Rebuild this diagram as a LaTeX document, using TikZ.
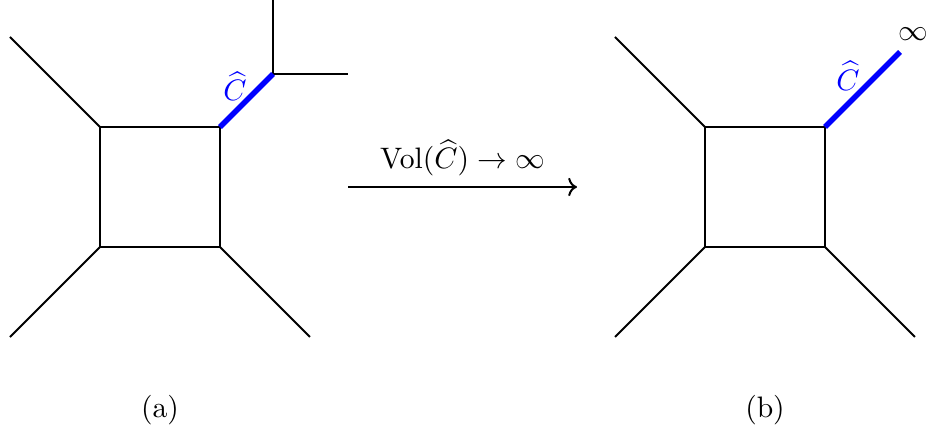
\documentclass[tikz,border=0pt,11pt]{standalone}
\usepackage{amsmath,amssymb}
\usepackage{tikz}
\usetikzlibrary{arrows.meta,positioning}

\begin{document}
\begin{tikzpicture}[x=0.39cm, y=0.39cm, every node/.style={font=\normalsize},
  edge/.style={line width=0.75pt},
  blueedge/.style={blue, line width=2pt}]
  \useasboundingbox (-3.333,-6.267) rectangle (27.667,8.233);

  % ---- (a): box with the curve C attached to a vertex ----
  \begin{scope}
    \coordinate (a1) at (0,0);
    \coordinate (a2) at (4,0);
    \coordinate (a3) at (4,4);
    \coordinate (a4) at (0,4);
    \coordinate (av) at (5.767,5.767);
    % external legs
    \coordinate (al1) at (-3,7);
    \coordinate (al2) at (-3,-3);
    \coordinate (al3) at (7,-3);
    \coordinate (avu) at (5.767,8.233);
    \coordinate (avr) at (8.267,5.767);
    \draw[edge] (a1) -- (a2) -- (a3) -- (a4) -- cycle;
    \draw[edge] (a4) -- (al1);
    \draw[edge] (a1) -- (al2);
    \draw[edge] (a2) -- (al3);
    \draw[edge] (av) -- (avu);
    \draw[edge] (av) -- (avr);
    \draw[blueedge] (a3) -- (av);
    \node[blue] (aC) at (4.5,5.35) {$\widehat{C}$};
    \node (alab) at (2,-5.43) {(a)};
  \end{scope}

  % ---- limit arrow ----
  \coordinate (ts) at (8.267,2);
  \coordinate (te) at (15.9,2);
  \draw[->, line width=0.75pt] (ts) -- (te) node[midway, above=0pt] (tlab) {$\mathrm{Vol}(\widehat{C}) \to \infty$};

  % ---- (b): the curve sent to infinity ----
  \begin{scope}[xshift=20.167*0.39cm]
    \coordinate (b1) at (0,0);
    \coordinate (b2) at (4,0);
    \coordinate (b3) at (4,4);
    \coordinate (b4) at (0,4);
    \coordinate (bl1) at (-3,7);
    \coordinate (bl2) at (-3,-3);
    \coordinate (bl3) at (7,-3);
    \coordinate (binf) at (6.5,6.5);
    \draw[edge] (b1) -- (b2) -- (b3) -- (b4) -- cycle;
    \draw[edge] (b4) -- (bl1);
    \draw[edge] (b1) -- (bl2);
    \draw[edge] (b2) -- (bl3);
    \draw[blueedge] (b3) -- (binf);
    \node[blue] (bC) at (4.77,5.7) {$\widehat{C}$};
    \node (binflab) at (6.95,7.1) {$\infty$};
    \node (blab) at (2,-5.43) {(b)};
  \end{scope}
\end{tikzpicture}
\end{document}
